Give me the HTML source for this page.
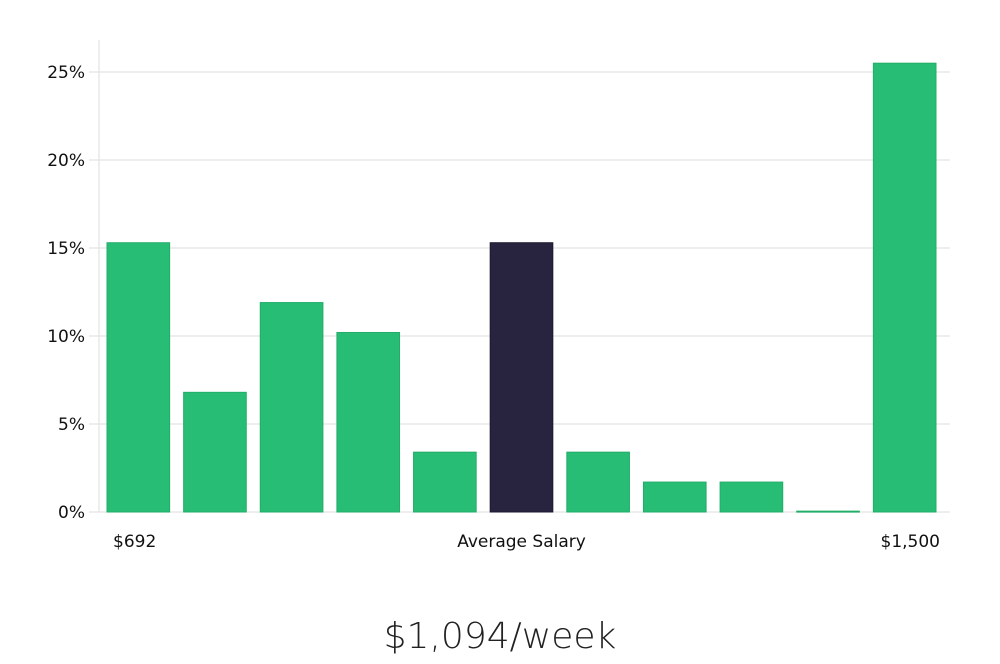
<!DOCTYPE html>
<html><head><meta charset="utf-8"><style>
body{margin:0;background:#fff;width:1000px;height:660px;overflow:hidden;font-family:"DejaVu Sans","Liberation Sans",sans-serif}
</style></head><body>
<svg width="1000" height="660">
<g id="grid"></g><g id="bars"></g><g id="labels"></g>
<text x="500" y="648" text-anchor="middle" font-size="36" font-weight="300" fill="#222" font-family="DejaVu Sans, sans-serif">$1,094/week</text>
</svg>
<script>
const categories=["$692","b2","b3","b4","b5","Average Salary","b7","b8","b9","b10","$1,500"];
const values=[15.3,6.8,11.9,10.2,3.4,15.3,3.4,1.7,1.7,0.05,25.5];
const highlight=[0,0,0,0,0,1,0,0,0,0,0];
const yTicks=[0,5,10,15,20,25];
const tickLabels=["0%","5%","10%","15%","20%","25%"];
const xLabels=[{i:0,t:"$692"},{i:5,t:"Average Salary"},{i:10,t:"$1,500"}];
const NS="http://www.w3.org/2000/svg";
const x0=99,x1=950,y0=512,pxPer=17.6;
const y=v=>y0-v*pxPer;
const step=(x1-x0-8)/categories.length;
const xb=i=>x0+8+i*step;
const bw=step-14;
function mk(tag,attrs,parent){const e=document.createElementNS(NS,tag);for(const k in attrs)e.setAttribute(k,attrs[k]);parent.appendChild(e);return e;}
const grid=document.getElementById('grid'),bars=document.getElementById('bars'),labels=document.getElementById('labels');
const ax=mk('line',{x1:x0,x2:x0,y1:40,y2:y0,stroke:'#ddd'},grid);


yTicks.forEach((t,k)=>{
 const l=mk('line',{x1:x0-10,x2:x1,y1:y(t),y2:y(t),stroke:'#ddd'},grid);
 
 
 const tx=mk('text',{x:85,y:y(t)+6,'text-anchor':'end','font-size':17,fill:'#111'},labels);
 tx.textContent=tickLabels[k];
 
 
});
values.forEach((v,i)=>{
 const c=highlight[i]?'#28243f':'#27bd74';
 const r=mk('rect',{x:xb(i),y:y(v),width:bw,height:Math.max(1,v*pxPer),fill:c,stroke:highlight[i]?'#1c1930':'#22ad69','stroke-width':1},bars);
 
 
});
xLabels.forEach(o=>{
 const anchor=o.i==0?'start':o.i==categories.length-1?'end':'middle';
 const xx=o.i==0?xb(0)+6:o.i==categories.length-1?xb(o.i)+bw+4:xb(o.i)+bw/2;
 const tx=mk('text',{x:xx,y:547,'text-anchor':anchor,'font-size':17,fill:'#111'},labels);
 tx.textContent=o.t;
 
 
});
</script>
</body></html>
